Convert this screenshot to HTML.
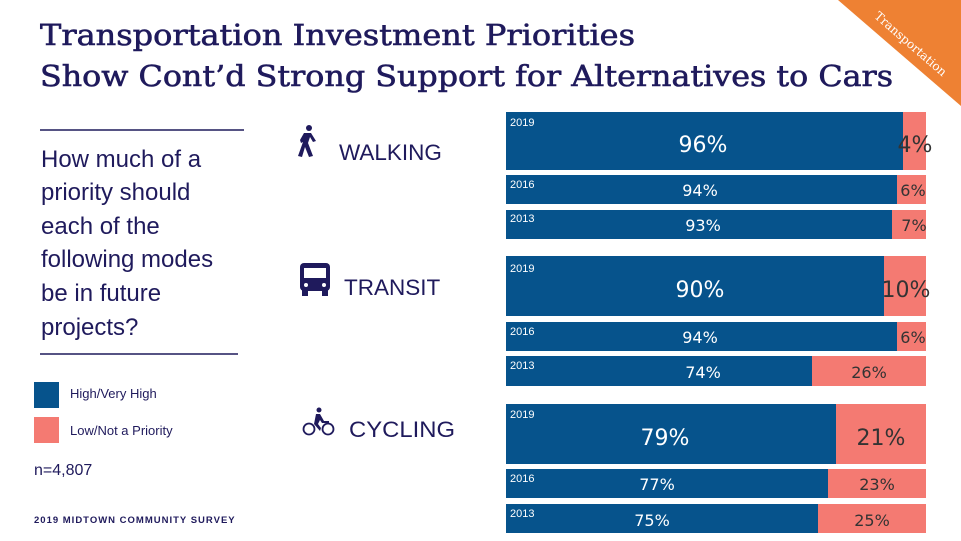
<!DOCTYPE html>
<html><head><meta charset="utf-8"><style>
html,body{margin:0;padding:0;background:#fff;}
svg{display:block;}
</style></head><body>
<svg width="961" height="541" viewBox="0 0 961 541" xmlns="http://www.w3.org/2000/svg">
<rect width="961" height="541" fill="#fff"/>
<polygon points="838,0 961,0 961,106" fill="#ee8133"/>
<text x="0" y="0" transform="translate(908,47) rotate(41)" text-anchor="middle" font-family="DejaVu Serif, serif" font-size="12" fill="#fff">Transportation</text>

<g font-family="DejaVu Serif, serif" font-size="29" fill="#1f1a5c" stroke="#1f1a5c" stroke-width="0.6">
<text x="40" y="45" textLength="595" lengthAdjust="spacingAndGlyphs">Transportation Investment Priorities</text>
<text x="40" y="86" textLength="853" lengthAdjust="spacingAndGlyphs">Show Cont’d Strong Support for Alternatives to Cars</text>
</g>

<line x1="40" y1="130" x2="244" y2="130" stroke="#1f1a5c" stroke-width="1.5"/>
<line x1="40" y1="354" x2="238" y2="354" stroke="#1f1a5c" stroke-width="1.5"/>
<g font-family="Liberation Sans, sans-serif" font-size="24" fill="#1f1a5c">
<text x="41" y="167">How much of a</text>
<text x="41" y="200">priority should</text>
<text x="41" y="234">each of the</text>
<text x="41" y="267">following modes</text>
<text x="41" y="301">be in future</text>
<text x="41" y="335">projects?</text>
</g>
<rect x="34" y="382" width="25" height="26" fill="#06538c"/>
<rect x="34" y="417" width="25" height="26" fill="#f47a72"/>
<g font-family="Liberation Sans, sans-serif" font-size="13" fill="#1f1a5c">
<text x="70" y="398">High/Very High</text>
<text x="70" y="435">Low/Not a Priority</text>
</g>
<text x="34" y="475" font-family="Liberation Sans, sans-serif" font-size="16" fill="#1f1a5c">n=4,807</text>
<text x="34" y="523" font-family="Liberation Sans, sans-serif" font-size="9.5" font-weight="bold" fill="#1f1a5c" letter-spacing="1">2019 MIDTOWN COMMUNITY SURVEY</text>

<g fill="#1f1a5c">
<circle cx="309" cy="128" r="3"/>
<path d="M304,133 L311,133 L316,141 L313,142 L310,137 L308,143 L313,156 L309,157 L305,147 L302,157 L298,156 L303,142 L301,143 L300,140 Z"/>
<rect x="300" y="263" width="30" height="28" rx="4" fill="#1f1a5c"/>
<rect x="304" y="268" width="22" height="10" fill="#fff"/>
<circle cx="306" cy="285" r="2" fill="#fff"/><circle cx="324" cy="285" r="2" fill="#fff"/>
<rect x="302" y="290" width="6" height="6"/><rect x="322" y="290" width="6" height="6"/>
<circle cx="319" cy="410" r="2.5"/>
<path d="M316,414 L320,414 L324,421 L329,421 L329,423 L322,423 L320,420 L318,424 L321,428 L320,431 L314,424 Z"/>
</g>
<g fill="none" stroke="#1f1a5c" stroke-width="1.8">
<circle cx="309" cy="429" r="5.5"/><circle cx="328" cy="429" r="5.5"/>
</g>
<g font-family="Liberation Sans, sans-serif" font-size="22.5" fill="#1f1a5c">
<text x="339" y="160">WALKING</text>
<text x="344" y="295">TRANSIT</text>
<text x="349" y="437" textLength="106" lengthAdjust="spacingAndGlyphs">CYCLING</text>
</g>

<g font-family="DejaVu Sans, sans-serif">
<rect x="506" y="112" width="397" height="58" fill="#06538c"/><rect x="903" y="112" width="23" height="58" fill="#f47a72"/>
<rect x="506" y="175" width="391" height="29" fill="#06538c"/><rect x="897" y="175" width="29" height="29" fill="#f47a72"/>
<rect x="506" y="210" width="386" height="29" fill="#06538c"/><rect x="892" y="210" width="34" height="29" fill="#f47a72"/>
<rect x="506" y="256" width="378" height="60" fill="#06538c"/><rect x="884" y="256" width="42" height="60" fill="#f47a72"/>
<rect x="506" y="322" width="391" height="29" fill="#06538c"/><rect x="897" y="322" width="29" height="29" fill="#f47a72"/>
<rect x="506" y="356" width="306" height="30" fill="#06538c"/><rect x="812" y="356" width="114" height="30" fill="#f47a72"/>
<rect x="506" y="404" width="330" height="60" fill="#06538c"/><rect x="836" y="404" width="90" height="60" fill="#f47a72"/>
<rect x="506" y="469" width="322" height="29" fill="#06538c"/><rect x="828" y="469" width="98" height="29" fill="#f47a72"/>
<rect x="506" y="504" width="312" height="29" fill="#06538c"/><rect x="818" y="504" width="108" height="29" fill="#f47a72"/>

<g font-family="Liberation Sans, sans-serif" font-size="11" fill="#fff">
<text x="510" y="126">2019</text><text x="510" y="188">2016</text><text x="510" y="222">2013</text>
<text x="510" y="272">2019</text><text x="510" y="335">2016</text><text x="510" y="369">2013</text>
<text x="510" y="418">2019</text><text x="510" y="482">2016</text><text x="510" y="517">2013</text>
</g>
<g fill="#fff" text-anchor="middle">
<text x="703" y="152" font-size="22">96%</text>
<text x="700" y="196" font-size="16">94%</text>
<text x="703" y="231" font-size="16">93%</text>
<text x="700" y="297" font-size="22">90%</text>
<text x="700" y="343" font-size="16">94%</text>
<text x="703" y="378" font-size="16">74%</text>
<text x="665" y="445" font-size="22">79%</text>
<text x="657" y="490" font-size="16">77%</text>
<text x="652" y="526" font-size="16">75%</text>
</g>
<g fill="#333" text-anchor="middle">
<text x="915" y="152" font-size="22">4%</text>
<text x="913" y="196" font-size="16">6%</text>
<text x="914" y="231" font-size="16">7%</text>
<text x="906" y="297" font-size="22">10%</text>
<text x="913" y="343" font-size="16">6%</text>
<text x="869" y="378" font-size="16">26%</text>
<text x="881" y="445" font-size="22">21%</text>
<text x="877" y="490" font-size="16">23%</text>
<text x="872" y="526" font-size="16">25%</text>
</g>
</g>
</svg>
</body></html>
